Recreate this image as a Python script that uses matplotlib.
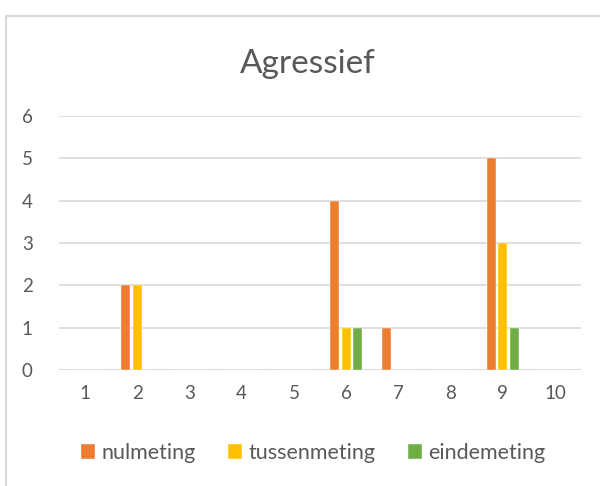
import numpy as np
import matplotlib
matplotlib.use("Agg")
import matplotlib.pyplot as plt
from matplotlib.patches import Rectangle

# Data
categories = ["1", "2", "3", "4", "5", "6", "7", "8", "9", "10"]
nulmeting = [0, 2, 0, 0, 0, 4, 1, 0, 5, 0]
tussenmeting = [0, 2, 0, 0, 0, 1, 0, 0, 3, 0]
eindemeting = [0, 0, 0, 0, 0, 1, 0, 0, 1, 0]
series_names = ["nulmeting", "tussenmeting", "eindemeting"]
colors = ["#ED7D31", "#FFC000", "#70AD47"]

plt.rcParams['font.family'] = ['Lato', 'DejaVu Sans']
text_color = "#595959"

fig = plt.figure(figsize=(6, 4.86), dpi=100)
ax = fig.add_axes([59 / 600, 116 / 486, 522 / 600, 254 / 486])

# chart border (extends off the right/bottom edge like the screenshot)
fig.patches.append(Rectangle((6 / 600, -0.1), 1.2, (486 - 16) / 486 + 0.1,
                             transform=fig.transFigure, fill=False,
                             edgecolor="#D9D9D9", linewidth=1.5))

x = np.arange(len(categories))
width = 0.175
step = 0.22
for i, (vals, name, c) in enumerate(zip([nulmeting, tussenmeting, eindemeting], series_names, colors)):
    ax.bar(x + (i - 1) * step, vals, width=width, color=c, label=name,
           edgecolor="white", linewidth=0.3, zorder=3)

ax.set_xlim(-0.5, len(categories) - 0.5)
ax.set_ylim(0, 6)
ax.set_yticks(range(7))
ax.set_xticks(x)
ax.set_xticklabels(categories)
ax.yaxis.grid(True, color="#D9D9D9", linewidth=1.2, zorder=0)
for s in ["top", "right", "left", "bottom"]:
    ax.spines[s].set_visible(False)
ax.axhline(0, color="#D9D9D9", linewidth=1.2, zorder=2)
ax.tick_params(axis="both", length=0, labelsize=13.5, colors=text_color)
ax.tick_params(axis="x", pad=11)
ax.tick_params(axis="y", pad=19)

fig.text(0.5125, 1 - 73 / 486, "Agressief", ha="center", va="baseline",
         fontsize=24, color=text_color)

fig.legend(loc="center", bbox_to_anchor=(0.522, 1 - 453 / 486), ncol=3,
           frameon=False, fontsize=15.5, labelcolor=text_color,
           handlelength=0.65, handleheight=0.65, handletextpad=0.3,
           columnspacing=1.5)

fig.savefig("out.png", dpi=100)
